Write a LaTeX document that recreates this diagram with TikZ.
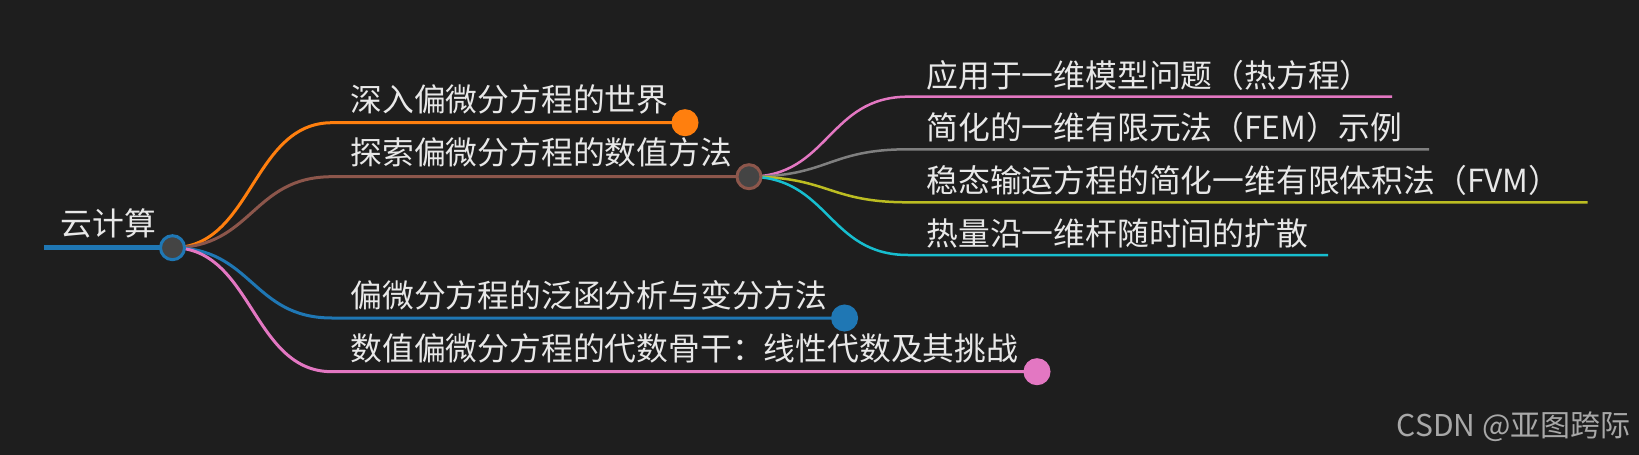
\documentclass[tikz,border=0pt]{standalone}
\usepackage{fontspec}
\setmainfont{Noto Sans CJK SC}
\usepackage{xcolor}
\usetikzlibrary{positioning, backgrounds}

\definecolor{bgdark}{HTML}{1E1E1E}
\definecolor{txtlight}{HTML}{E8E8E8}
\definecolor{wmgray}{HTML}{A8A8A8}
\definecolor{dotfill}{HTML}{444444}
\definecolor{mmblue}{HTML}{1F77B4}
\definecolor{mmorange}{HTML}{FF7F0E}
\definecolor{mmbrown}{HTML}{8C564B}
\definecolor{mmpink}{HTML}{E377C2}
\definecolor{mmgray}{HTML}{7F7F7F}
\definecolor{mmolive}{HTML}{BCBD22}
\definecolor{mmcyan}{HTML}{17BECF}

\begin{document}
\begin{tikzpicture}[
  x=0.5pt, y=-0.5pt,
  topic/.style={anchor=west, inner sep=0pt, text=txtlight, font=\fontsize{15.9}{18}\selectfont},
  dot/.style={circle, inner sep=0pt, minimum size=12pt, line width=1.5pt},
  trunk/.style={line width=2.3pt},
  branch/.style={line width=1.5pt},
  twig/.style={line width=1.25pt}
]
\useasboundingbox (0,0) rectangle (1639,455);

% root
\coordinate (rootin) at (44,247.7);
\node[dot, draw=mmblue, fill=dotfill] (root) at (172.5,247.7) {};
\node[topic] (roottxt) at (60,223) {云计算};

% first level
\coordinate (worldin) at (332,122.7);
\node[dot, draw=mmorange, fill=mmorange] (world) at (685,122.7) {};
\node[topic] (worldtxt) at (350,99) {深入偏微分方程的世界};

\coordinate (numerin) at (332,176.7);
\node[dot, draw=mmbrown, fill=dotfill] (numer) at (749,176.7) {};
\node[topic] (numertxt) at (350,152.5) {探索偏微分方程的数值方法};

\coordinate (funcin) at (332,318);
\node[dot, draw=mmblue, fill=mmblue] (func) at (844.6,318) {};
\node[topic] (functxt) at (350,295) {偏微分方程的泛函分析与变分方法};

\coordinate (algin) at (332,371.7);
\node[dot, draw=mmpink, fill=mmpink] (alg) at (1037,371.7) {};
\node[topic] (algtxt) at (350,348) {数值偏微分方程的代数骨干：线性代数及其挑战};

% second level
\coordinate (heatin) at (908,96.7);
\coordinate (heatend) at (1392,96.7);
\node[topic] (heattxt) at (926,75) {应用于一维模型问题（热方程）};

\coordinate (femin) at (908,149.3);
\coordinate (femend) at (1429,149.3);
\node[topic] (femtxt) at (926,127) {简化的一维有限元法（FEM）示例};

\coordinate (fvmin) at (908,202.3);
\coordinate (fvmend) at (1587.5,202.3);
\node[topic] (fvmtxt) at (926,180) {稳态输运方程的简化一维有限体积法（FVM）};

\coordinate (rodin) at (908,255);
\coordinate (rodend) at (1328,255);
\node[topic] (rodtxt) at (926,233) {热量沿一维杆随时间的扩散};

\node[anchor=east, inner sep=0pt, text=wmgray, font=\fontsize{15}{18}\selectfont] (mark) at (1631,427) {CSDN @亚图跨际};

\begin{scope}[on background layer]
\fill[bgdark] (0,0) rectangle (1639,455);
\draw[trunk, mmblue] (rootin) -- (root.center);
\draw[branch, mmorange] (root.center) .. controls +(80,0) and +(-80,0) .. (worldin) -- (world.center);
\draw[branch, mmbrown] (root.center) .. controls +(80,0) and +(-80,0) .. (numerin) -- (numer.center);
\draw[branch, mmblue] (root.center) .. controls +(80,0) and +(-80,0) .. (funcin) -- (func.center);
\draw[branch, mmpink] (root.center) .. controls +(80,0) and +(-80,0) .. (algin) -- (alg.center);
\draw[twig, mmpink] (numer.center) .. controls +(80,0) and +(-80,0) .. (heatin) -- (heatend);
\draw[twig, mmgray] (numer.center) .. controls +(80,0) and +(-80,0) .. (femin) -- (femend);
\draw[twig, mmolive] (numer.center) .. controls +(80,0) and +(-80,0) .. (fvmin) -- (fvmend);
\draw[twig, mmcyan] (numer.center) .. controls +(80,0) and +(-80,0) .. (rodin) -- (rodend);
\end{scope}
\end{tikzpicture}
\end{document}
